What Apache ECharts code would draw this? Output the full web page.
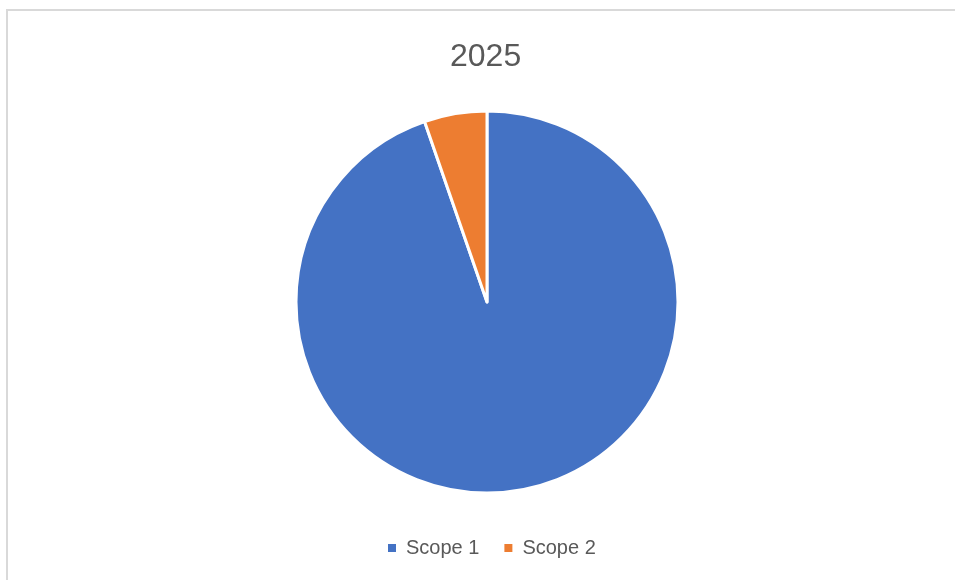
<!DOCTYPE html>
<html>
<head>
<meta charset="utf-8">
<script src="https://cdn.jsdelivr.net/npm/echarts@6/dist/echarts.min.js"></script>
<style>
html,body{margin:0;padding:0;background:#fff;}
#chart{width:955px;height:580px;}
</style>
</head>
<body>
<div id="chart"></div>
<script>
const titleText = "2025";
const categories = ["Scope 1", "Scope 2"];
const values = [94.7, 5.3];
const colors = ["#4472C4", "#ED7D31"];

const chart = echarts.init(document.getElementById('chart'), null, {renderer: 'canvas'});
chart.setOption({
  backgroundColor: '#ffffff',
  animation: false,
  graphic: [{
    type: 'rect',
    shape: {x: 7, y: 10, width: 1000, height: 1000},
    style: {fill: 'none', stroke: '#d9d9d9', lineWidth: 2},
    silent: true,
    z: -1
  }],
  title: {
    text: titleText,
    left: 450,
    top: 41,
    padding: 0,
    textStyle: {fontFamily: 'Liberation Sans', fontSize: 32, fontWeight: 'normal', color: '#595959'}
  },
  legend: {
    data: categories,
    left: 381,
    top: 533,
    icon: 'rect',
    itemWidth: 10,
    itemHeight: 10,
    itemGap: 23,
    textStyle: {fontFamily: 'Liberation Sans', fontSize: 20, color: '#595959', padding: [0, 0, 0, 4]}
  },
  series: [{
    type: 'pie',
    center: [487, 302],
    radius: [0, 191],
    startAngle: 90,
    clockwise: true,
    label: {show: false},
    labelLine: {show: false},
    itemStyle: {borderColor: '#ffffff', borderWidth: 3},
    emphasis: {disabled: true},
    data: categories.map((c, i) => ({name: c, value: values[i], itemStyle: {color: colors[i]}}))
  }]
});
</script>
</body>
</html>
